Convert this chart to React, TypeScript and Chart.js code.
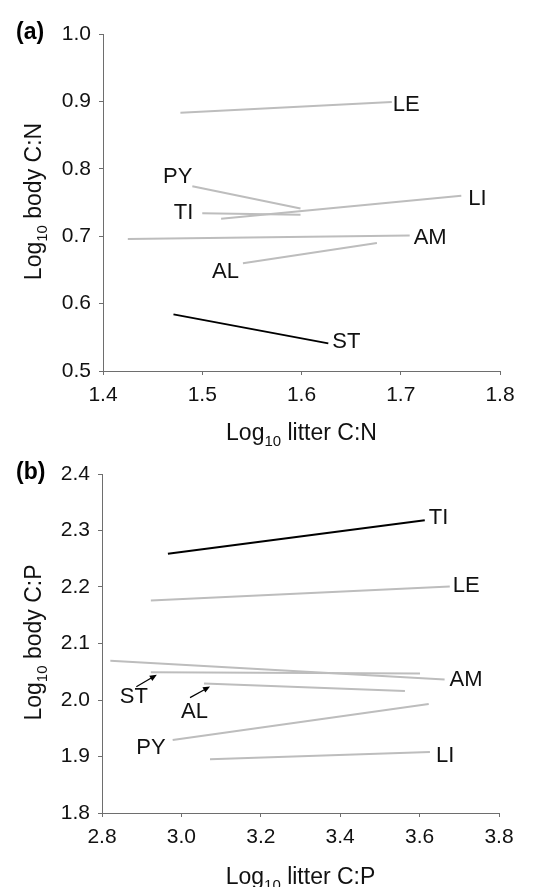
import React, { useEffect, useRef } from "react";
import { Chart, registerables } from "chart.js";

Chart.register(...registerables);

const FONT = '"Liberation Sans", Arial, Helvetica, sans-serif';
const GRAY = "#bdbdbd";
const BLACK = "#000000";
const AXIS = "#6e6e6e";
const TEXT = "#111111";

// ---------- Panel (a): Log10 litter C:N vs Log10 body C:N ----------
const speciesA = ["LE", "PY", "TI", "LI", "AM", "AL", "ST"];
const litterCNStart = [1.478, 1.49, 1.5, 1.519, 1.425, 1.541, 1.471];
const litterCNEnd = [1.691, 1.599, 1.599, 1.761, 1.709, 1.676, 1.627];
const bodyCNStart = [0.883, 0.774, 0.734, 0.726, 0.696, 0.66, 0.584];
const bodyCNEnd = [0.899, 0.741, 0.732, 0.76, 0.701, 0.69, 0.541];
const significantA = [false, false, false, false, false, false, true];
const xTicksA = [1.4, 1.5, 1.6, 1.7, 1.8];
const yTicksA = [0.5, 0.6, 0.7, 0.8, 0.9, 1.0];

// ---------- Panel (b): Log10 litter C:P vs Log10 body C:P ----------
const speciesB = ["TI", "LE", "AM", "ST", "AL", "PY", "LI"];
const litterCPStart = [2.966, 2.923, 2.821, 2.923, 3.057, 2.978, 3.072];
const litterCPEnd = [3.613, 3.676, 3.663, 3.601, 3.563, 3.623, 3.626];
const bodyCPStart = [2.259, 2.176, 2.0695, 2.049, 2.029, 1.929, 1.895];
const bodyCPEnd = [2.318, 2.201, 2.0365, 2.047, 2.016, 1.993, 1.908];
const significantB = [true, false, false, false, false, false, false];
const xTicksB = [2.8, 3.0, 3.2, 3.4, 3.6, 3.8];
const yTicksB = [1.8, 1.9, 2.0, 2.1, 2.2, 2.3, 2.4];

// ---------- label placement (pixel offsets from a line end) ----------
type Placement = {
  at: "start" | "end";
  align: CanvasTextAlign;
  dx: number;
  dy: number;
  arrow?: [number, number, number, number];
};

const placementA: Placement[] = [
  { at: "end", align: "left", dx: 1, dy: 3 },
  { at: "start", align: "right", dx: 0, dy: -9 },
  { at: "start", align: "right", dx: -9, dy: 0 },
  { at: "end", align: "left", dx: 7, dy: 3 },
  { at: "end", align: "left", dx: 4, dy: 2.5 },
  { at: "start", align: "right", dx: -4, dy: 8.5 },
  { at: "end", align: "left", dx: 4, dy: -1 },
];

const placementB: Placement[] = [
  { at: "end", align: "left", dx: 4, dy: -2 },
  { at: "end", align: "left", dx: 3, dy: 0 },
  { at: "end", align: "left", dx: 5, dy: 1 },
  { at: "start", align: "center", dx: -17, dy: 24.5, arrow: [-14.5, 14.5, 6, 2.5] },
  { at: "start", align: "center", dx: -9.5, dy: 28.5, arrow: [-14, 14, 6, 3] },
  { at: "start", align: "right", dx: -7, dy: 7.5 },
  { at: "end", align: "left", dx: 6, dy: 3.5 },
];

type PanelCfg = {
  letter: string;
  names: string[];
  xs: number[];
  xe: number[];
  ys: number[];
  ye: number[];
  place: Placement[];
  xTitle: [string, string, string];
  yTitle: [string, string, string];
  xTitleBaseline: number;
  yTitleBaselineX: number;
  letterBaseline: number;
};

function drawSubTitle(ctx: CanvasRenderingContext2D, parts: [string, string, string], size: number, subSize: number) {
  ctx.textAlign = "left";
  ctx.textBaseline = "alphabetic";
  ctx.font = `${size}px ${FONT}`;
  const w1 = ctx.measureText(parts[0]).width;
  const w3 = ctx.measureText(parts[2]).width;
  ctx.font = `${subSize}px ${FONT}`;
  const w2 = ctx.measureText(parts[1]).width;
  const total = w1 + w2 + w3;
  let x0 = -total / 2;
  ctx.font = `${size}px ${FONT}`;
  ctx.fillText(parts[0], x0, 0);
  ctx.font = `${subSize}px ${FONT}`;
  ctx.fillText(parts[1], x0 + w1, 6);
  ctx.font = `${size}px ${FONT}`;
  ctx.fillText(parts[2], x0 + w1 + w2, 0);
}

function makeDecor(cfg: PanelCfg) {
  return {
    id: "panelDecor" + cfg.letter,
    afterDatasetsDraw(chart: any) {
      const { ctx, chartArea } = chart;
      const xs = chart.scales.x;
      const ys = chart.scales.y;
      ctx.save();
      ctx.fillStyle = TEXT;
      ctx.font = `22px ${FONT}`;
      ctx.textBaseline = "middle";
      cfg.names.forEach((n, i) => {
        const p = cfg.place[i];
        const vx = p.at === "start" ? cfg.xs[i] : cfg.xe[i];
        const vy = p.at === "start" ? cfg.ys[i] : cfg.ye[i];
        const px = xs.getPixelForValue(vx);
        const py = ys.getPixelForValue(vy);
        ctx.textAlign = p.align;
        ctx.fillText(n, px + p.dx, py + p.dy);
        if (p.arrow) {
          const [tx, ty, hx, hy] = p.arrow;
          const x1 = px + tx, y1 = py + ty, x2 = px + hx, y2 = py + hy;
          const ang = Math.atan2(y2 - y1, x2 - x1);
          const L = 7, W = 3;
          ctx.strokeStyle = BLACK;
          ctx.lineWidth = 1.2;
          ctx.beginPath();
          ctx.moveTo(x1, y1);
          ctx.lineTo(x2 - Math.cos(ang) * (L - 1), y2 - Math.sin(ang) * (L - 1));
          ctx.stroke();
          ctx.fillStyle = BLACK;
          ctx.beginPath();
          ctx.moveTo(x2, y2);
          ctx.lineTo(x2 - Math.cos(ang) * L - Math.sin(ang) * W, y2 - Math.sin(ang) * L + Math.cos(ang) * W);
          ctx.lineTo(x2 - Math.cos(ang) * L + Math.sin(ang) * W, y2 - Math.sin(ang) * L - Math.cos(ang) * W);
          ctx.closePath();
          ctx.fill();
          ctx.fillStyle = TEXT;
        }
      });
      // panel letter
      ctx.font = `bold 23px ${FONT}`;
      ctx.textAlign = "left";
      ctx.textBaseline = "alphabetic";
      ctx.fillStyle = BLACK;
      ctx.fillText(cfg.letter, 16, cfg.letterBaseline);
      // x title
      ctx.fillStyle = TEXT;
      ctx.save();
      ctx.translate((chartArea.left + chartArea.right) / 2, cfg.xTitleBaseline);
      drawSubTitle(ctx, cfg.xTitle, 23, 15);
      ctx.restore();
      // y title
      ctx.save();
      ctx.translate(cfg.yTitleBaselineX, (chartArea.top + chartArea.bottom) / 2 - 1);
      ctx.rotate(-Math.PI / 2);
      drawSubTitle(ctx, cfg.yTitle, 23, 15);
      ctx.restore();
      ctx.restore();
    },
  };
}

function makeChart(
  canvas: HTMLCanvasElement,
  cfg: PanelCfg,
  sig: boolean[],
  xTicks: number[],
  yTicks: number[],
  padding: { left: number; top: number; right: number; bottom: number },
  yWidth: number
) {
  const datasets = cfg.names.map((n, i) => ({
    label: n,
    data: [
      { x: cfg.xs[i], y: cfg.ys[i] },
      { x: cfg.xe[i], y: cfg.ye[i] },
    ],
    borderColor: sig[i] ? BLACK : GRAY,
    borderWidth: 2,
    pointRadius: 0,
    fill: false,
    tension: 0,
  }));
  const tickFont = { family: FONT, size: 21 };
  const common = {
    type: "linear" as const,
    grid: { display: true, drawOnChartArea: false, drawTicks: true, tickLength: 4, color: AXIS, lineWidth: 1 },
    border: { display: true, color: AXIS, width: 1 },
  };
  return new Chart(canvas, {
    type: "line",
    data: { datasets },
    options: {
      responsive: false,
      animation: false,
      devicePixelRatio: 1,
      layout: { padding },
      plugins: { legend: { display: false }, tooltip: { enabled: false } },
      scales: {
        x: {
          ...common,
          min: xTicks[0],
          max: xTicks[xTicks.length - 1],
          afterBuildTicks: (s: any) => {
            s.ticks = xTicks.map((v) => ({ value: v }));
          },
          afterFit: (s: any) => {
            s.height = 40;
          },
          ticks: {
            color: TEXT,
            font: tickFont,
            padding: 8,
            maxRotation: 0,
            autoSkip: false,
            callback: (v: any) => Number(v).toFixed(1),
          },
        },
        y: {
          ...common,
          min: yTicks[0],
          max: yTicks[yTicks.length - 1],
          afterBuildTicks: (s: any) => {
            s.ticks = yTicks.map((v) => ({ value: v }));
          },
          afterFit: (s: any) => {
            s.width = yWidth;
          },
          ticks: {
            color: TEXT,
            font: tickFont,
            padding: 8,
            autoSkip: false,
            callback: (v: any) => Number(v).toFixed(1),
          },
        },
      },
    } as any,
    plugins: [makeDecor(cfg)],
  });
}

export default function App() {
  const refA = useRef<HTMLCanvasElement>(null);
  const refB = useRef<HTMLCanvasElement>(null);

  useEffect(() => {
    const cfgA: PanelCfg = {
      letter: "(a)",
      names: speciesA,
      xs: litterCNStart,
      xe: litterCNEnd,
      ys: bodyCNStart,
      ye: bodyCNEnd,
      place: placementA,
      xTitle: ["Log", "10", " litter C:N"],
      yTitle: ["Log", "10", " body C:N"],
      xTitleBaseline: 440,
      yTitleBaselineX: 40.5,
      letterBaseline: 38.5,
    };
    const cfgB: PanelCfg = {
      letter: "(b)",
      names: speciesB,
      xs: litterCPStart,
      xe: litterCPEnd,
      ys: bodyCPStart,
      ye: bodyCPEnd,
      place: placementB,
      xTitle: ["Log", "10", " litter C:P"],
      yTitle: ["Log", "10", " body C:P"],
      xTitleBaseline: 432,
      yTitleBaselineX: 40.5,
      letterBaseline: 27,
    };
    const a = makeChart(refA.current!, cfgA, significantA, xTicksA, yTicksA, { left: 0, top: 34, right: 54, bottom: 41 }, 103);
    const b = makeChart(refB.current!, cfgB, significantB, xTicksB, yTicksB, { left: 0, top: 22, right: 55, bottom: 34 }, 102);
    return () => {
      a.destroy();
      b.destroy();
    };
  }, []);

  return (
    <div style={{ position: "absolute", left: 0, top: 0, width: 554, height: 887, background: "#fff", overflow: "hidden" }}>
      <canvas ref={refA} width={554} height={452} style={{ position: "absolute", left: 0, top: 0, width: 554, height: 452 }} />
      <canvas ref={refB} width={554} height={435} style={{ position: "absolute", left: 0, top: 452, width: 554, height: 435 }} />
    </div>
  );
}
